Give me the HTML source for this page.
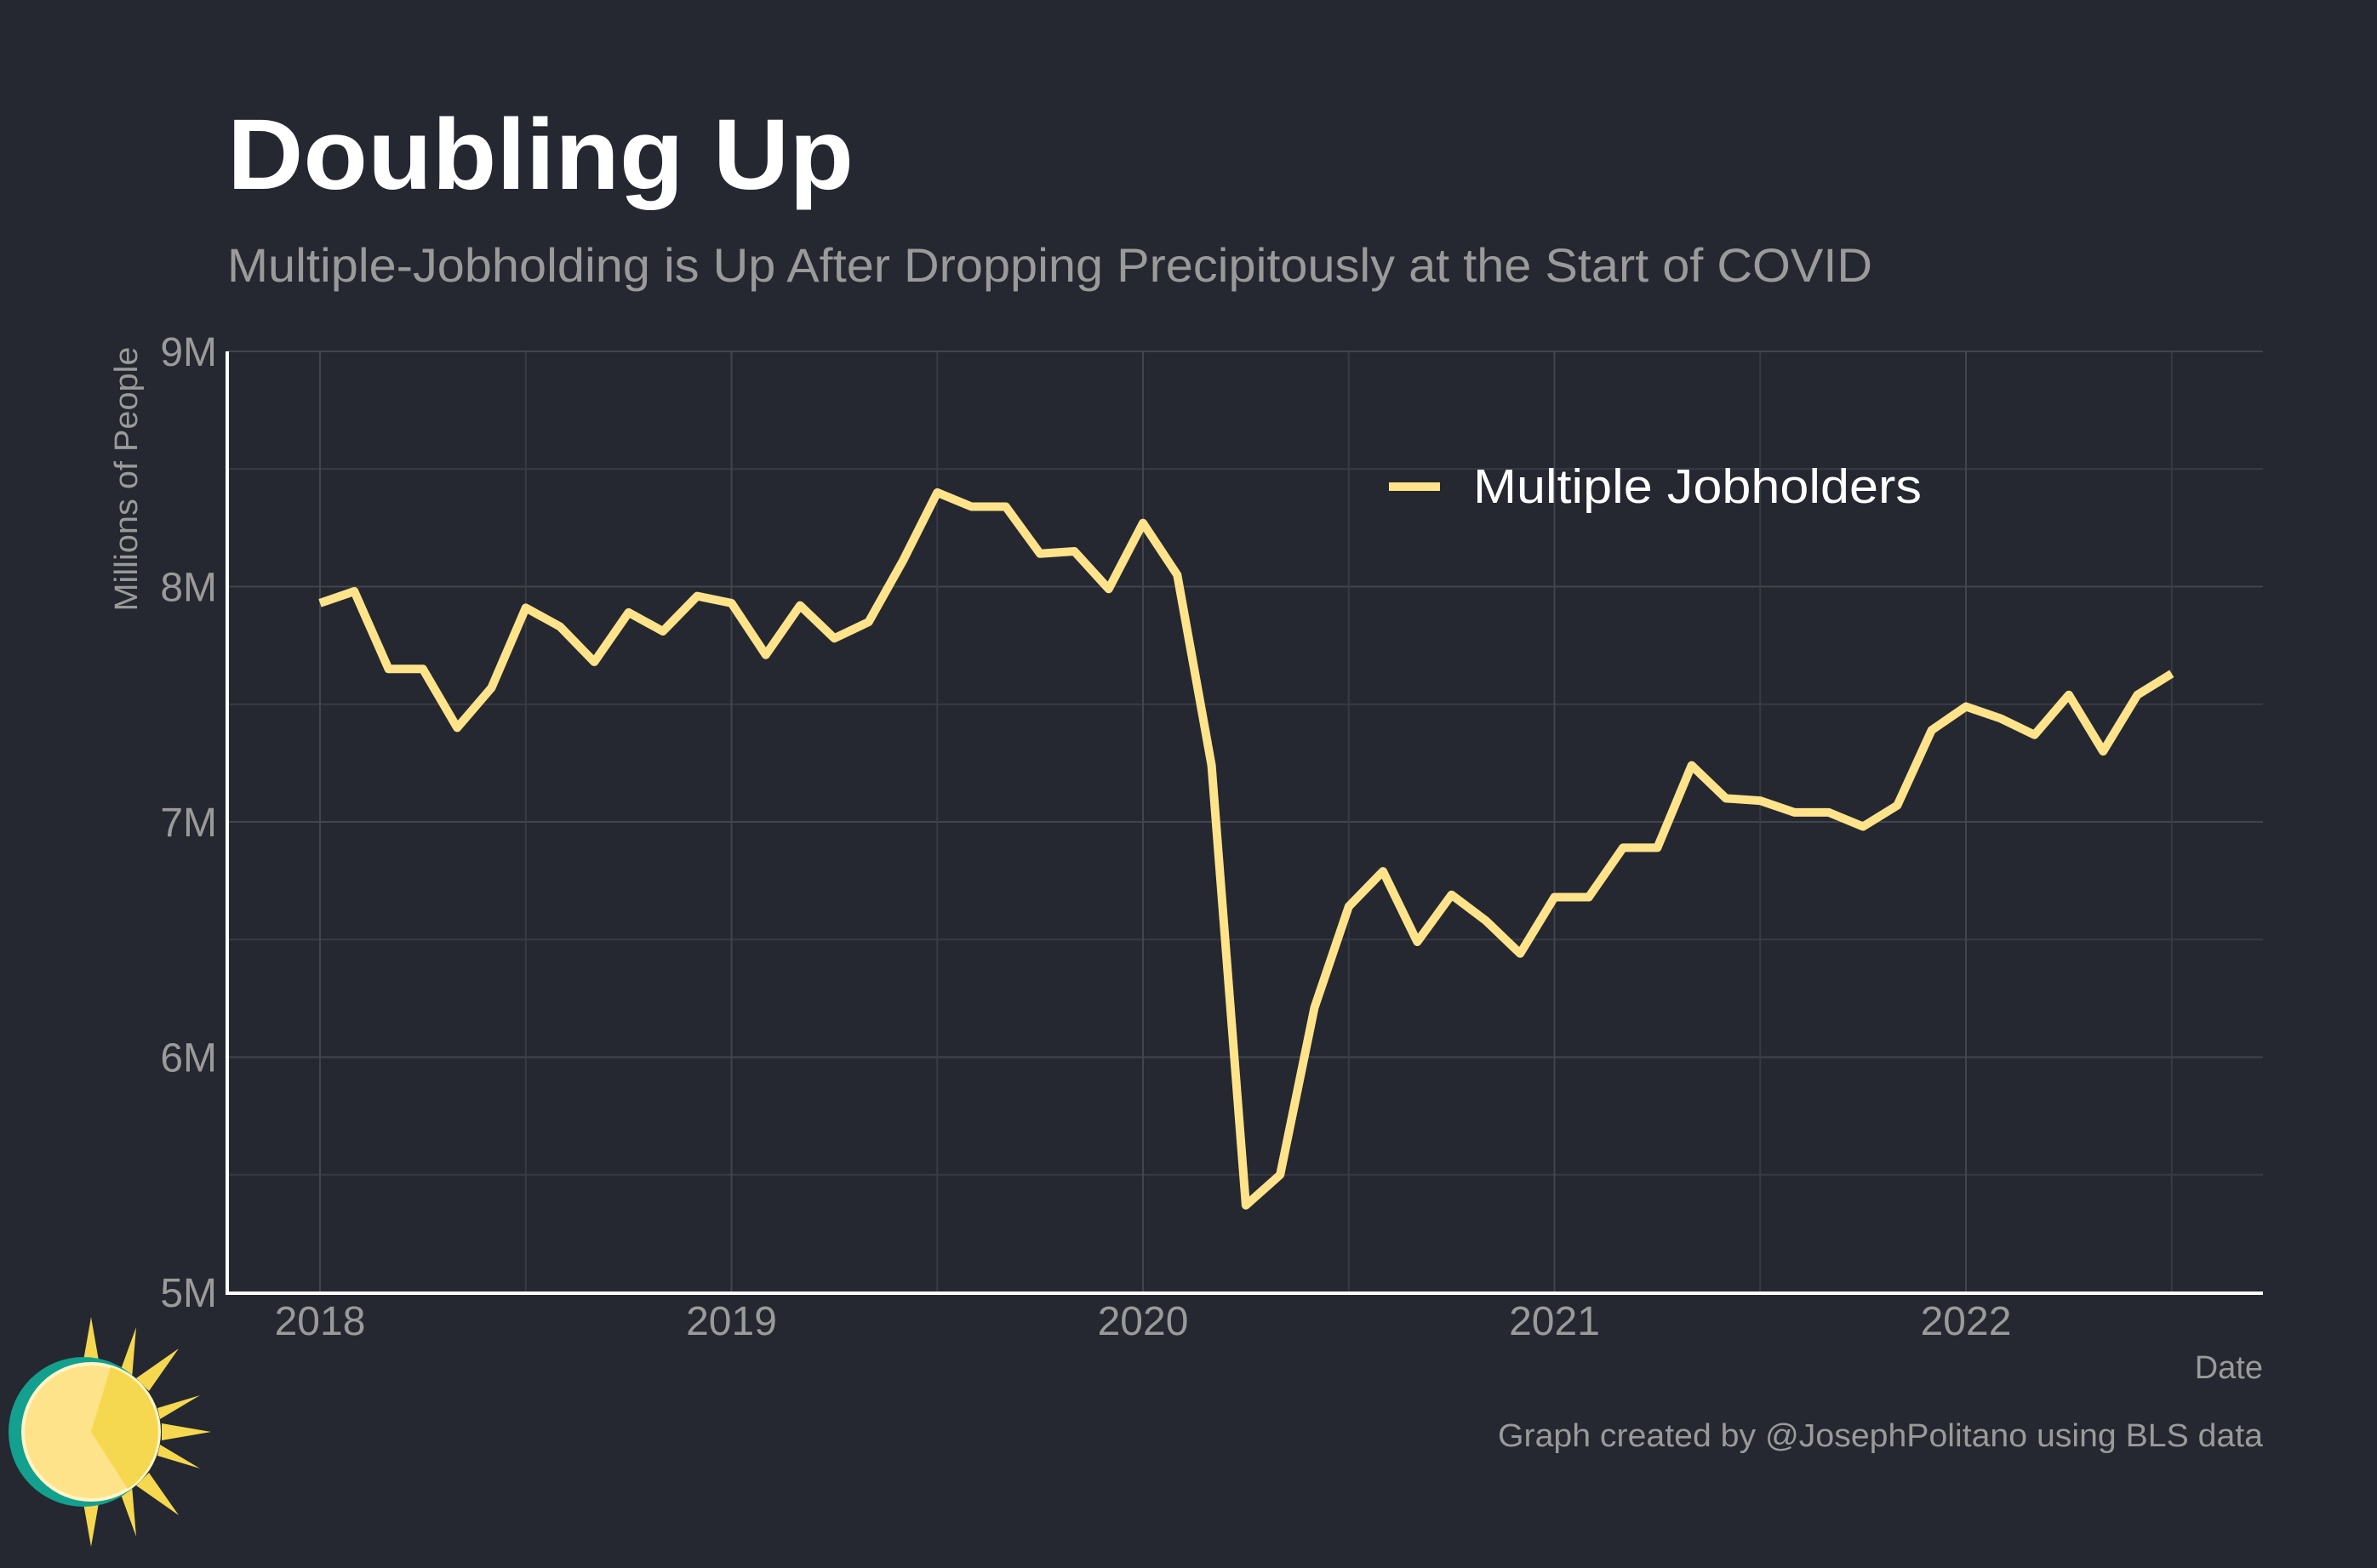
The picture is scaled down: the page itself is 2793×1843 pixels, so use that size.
<!DOCTYPE html>
<html><head><meta charset="utf-8"><style>
html,body{margin:0;padding:0;background:#252830;}
svg{display:block;font-family:"Liberation Sans",Arial,sans-serif;}
</style></head><body>
<svg id="chart" width="2793" height="1843" viewBox="0 0 2793 1843">
<rect width="2793" height="1843" fill="#252830"/>
<text x="267" y="222" font-size="118" font-weight="bold" fill="#ffffff" textLength="736" lengthAdjust="spacingAndGlyphs">Doubling Up</text>
<text x="267" y="331" font-size="56" fill="#9a9a9a" textLength="1933" lengthAdjust="spacingAndGlyphs">Multiple-Jobholding is Up After Dropping Precipitously at the Start of COVID</text>
<g id="grid"></g>
<g id="yticks"></g>
<g id="xticks"></g>
<line x1="267" y1="413" x2="267" y2="1520" stroke="#ffffff" stroke-width="4"/>
<line x1="265" y1="1520" x2="2659" y2="1520" stroke="#ffffff" stroke-width="4"/>
<text transform="translate(161,563) rotate(-90)" text-anchor="middle" font-size="38" fill="#9a9a9a" textLength="311" lengthAdjust="spacingAndGlyphs">Millions of People</text>
<text x="2659" y="1620" text-anchor="end" font-size="38" fill="#9a9a9a">Date</text>
<path id="series" fill="none" stroke="#ffe38a" stroke-width="10" stroke-linejoin="round"/>
<g>
<line x1="1632" y1="572" x2="1692" y2="572" stroke="#ffe38a" stroke-width="10"/>
<text x="1731" y="591" font-size="57" fill="#ffffff" textLength="527" lengthAdjust="spacingAndGlyphs">Multiple Jobholders</text>
</g>
<text x="2659" y="1700" text-anchor="end" font-size="38" fill="#9a9a9a" textLength="899" lengthAdjust="spacingAndGlyphs">Graph created by @JosephPolitano using BLS data</text>
<g>
<g fill="#f5d84f">
<polygon points="107,1548 117,1605 97,1605"/>
<polygon points="107,1818 117,1761 97,1761"/>
<polygon points="248,1683 190,1673 190,1693"/>
<polygon points="210,1585 160,1620 175,1635"/>
<polygon points="210,1781 160,1746 175,1731"/>
<polygon points="160,1560 140,1615 155,1620"/>
<polygon points="160,1806 140,1751 155,1746"/>
<polygon points="235,1640 185,1655 188,1668"/>
<polygon points="235,1726 185,1711 188,1698"/>
</g>
<circle cx="98" cy="1683" r="88" fill="#14a08e"/>
<circle cx="107" cy="1683" r="80" fill="#ffe38a" stroke="#fff6c8" stroke-width="4"/>
<path d="M107,1683 L130,1607 A80,80 0 0 1 150,1750 Z" fill="#f5d84f"/>
</g>
</svg>
<script>
const yTicks=[5,6,7,8,9];
const yTickLabels=["5M","6M","7M","8M","9M"];
const xYears=[2018,2019,2020,2021,2022];
const values=[7.93,7.98,7.65,7.65,7.40,7.57,7.91,7.83,7.68,7.89,7.81,7.96,
7.93,7.71,7.92,7.78,7.85,8.11,8.40,8.34,8.34,8.14,8.15,7.99,
8.27,8.05,7.24,5.37,5.50,6.21,6.64,6.79,6.49,6.69,6.58,6.44,
6.68,6.68,6.89,6.89,7.24,7.10,7.09,7.04,7.04,6.98,7.07,7.39,
7.49,7.44,7.37,7.54,7.30,7.54,7.63];
const startYear=2018;
const NS='http://www.w3.org/2000/svg';
function xs(t){return 376+(t-2018)*483.5;}
function ys(v){return 1519-(v-5)*276.5;}
const grid=document.getElementById('grid');
for(let v=5;v<=9;v+=0.5){
 const l=document.createElementNS(NS,'line');
 l.setAttribute('x1',267);l.setAttribute('x2',2659);l.setAttribute('y1',ys(v));l.setAttribute('y2',ys(v));
 l.setAttribute('stroke',v%1===0?'#42454d':'#383b43');l.setAttribute('stroke-width',2);
 
 
 grid.appendChild(l);
}
for(let t=2018;t<=2022.5;t+=0.5){
 const l=document.createElementNS(NS,'line');
 l.setAttribute('x1',xs(t));l.setAttribute('x2',xs(t));l.setAttribute('y1',413);l.setAttribute('y2',1519);
 l.setAttribute('stroke',t%1===0?'#42454d':'#383b43');l.setAttribute('stroke-width',2);
 
 
 grid.appendChild(l);
}
const yt=document.getElementById('yticks');
yTicks.forEach((v,i)=>{
 const t=document.createElementNS(NS,'text');
 t.setAttribute('x',255);t.setAttribute('y',ys(v)+17);t.setAttribute('text-anchor','end');
 t.setAttribute('font-size',48);t.setAttribute('fill','#9a9a9a');
 t.textContent=yTickLabels[i];
 
 
 yt.appendChild(t);
});
const xt=document.getElementById('xticks');
xYears.forEach(y=>{
 const t=document.createElementNS(NS,'text');
 t.setAttribute('x',xs(y));t.setAttribute('y',1569);t.setAttribute('text-anchor','middle');
 t.setAttribute('font-size',48);t.setAttribute('fill','#9a9a9a');
 t.textContent=y;
 
 
 xt.appendChild(t);
});
let d='';
values.forEach((v,i)=>{d+=(i?'L':'M')+xs(startYear+i/12).toFixed(1)+','+ys(v).toFixed(1);});
document.getElementById('series').setAttribute('d',d);
</script>
</body></html>
